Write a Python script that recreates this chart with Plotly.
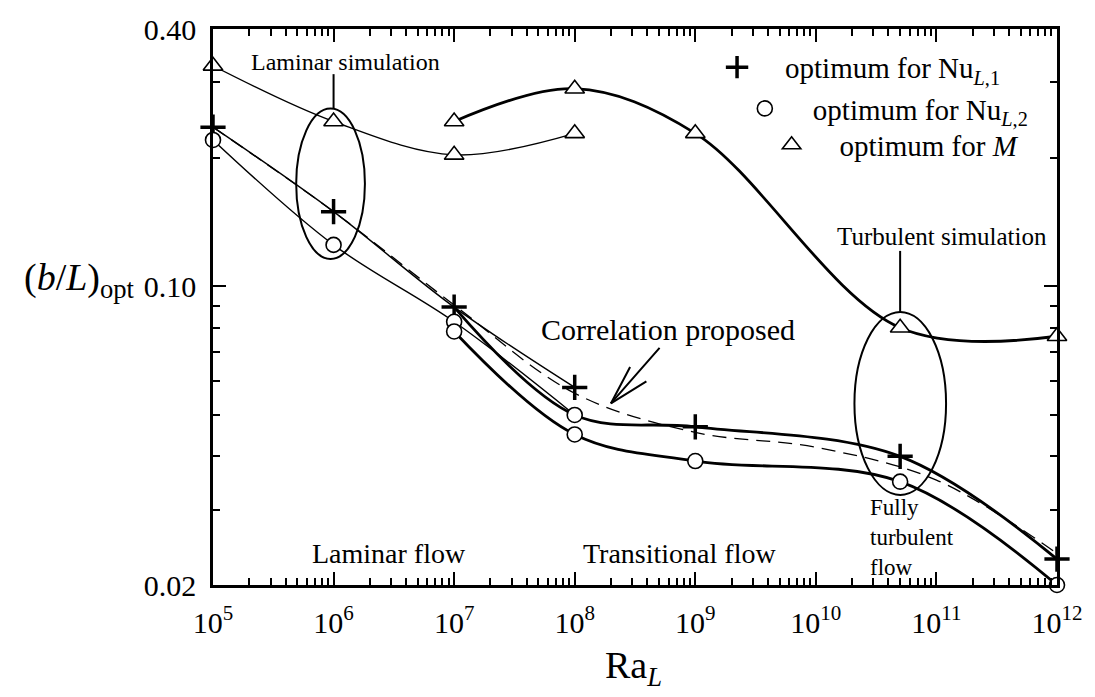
import numpy as np
import plotly.graph_objects as go

# Rayleigh numbers of the simulated cases
ra_lam = [1e5, 1e6, 1e7, 1e8]
ra_turb = [1e7, 1e8, 1e9, 5e10, 1e12]

# laminar simulation: optimum spacing (b/L)_opt
lam_nu1 = [0.2357, 0.1495, 0.0894, 0.058]
lam_nu2 = [0.220, 0.125, 0.0826, 0.050]
lam_m = [0.328, 0.243, 0.203, 0.228]

# turbulent simulation: optimum spacing (b/L)_opt
turb_nu1 = [0.0894, 0.050, 0.0469, 0.040, 0.023]
turb_nu2 = [0.0784, 0.045, 0.039, 0.0349, 0.020]
turb_m = [0.243, 0.290, 0.228, 0.080, 0.0764]

# proposed correlation
ra_corr = [1e5, 1e6, 1e7, 1e8, 1e9, 1e10, 1e11, 1e12]
corr = [0.2357, 0.1495, 0.0904, 0.0562, 0.0455, 0.042, 0.0352, 0.0237]

# axis ticks
x_major = [1e5, 1e6, 1e7, 1e8, 1e9, 1e10, 1e11, 1e12]
x_labels = ["10<sup>%d</sup>" % e for e in range(5, 13)]
y_major = [0.02, 0.10, 0.40]
y_labels = ["0.02", "0.10", "0.40"]
y_minor = [0.03, 0.04, 0.05, 0.06, 0.07, 0.08, 0.09, 0.2, 0.3]
x_minor = [m * 10.0 ** e for e in range(5, 12) for m in range(2, 10)]

FONT = "Liberation Serif"
BLACK = "black"

fig = go.Figure()

# curves
def curve(x, y, width, dash="solid"):
    fig.add_trace(go.Scatter(
        x=x, y=y, mode="lines", showlegend=False, hoverinfo="skip",
        line=dict(color=BLACK, width=width, shape="spline", smoothing=1.0, dash=dash),
    ))

curve(ra_corr, corr, 1.3, dash="14px,8px")
curve(ra_lam, lam_nu1, 1.4)
curve(ra_lam, lam_nu2, 1.4)
curve(ra_lam, lam_m, 1.4)
curve(ra_turb, turb_nu1, 2.8)
curve(ra_turb, turb_nu2, 2.8)
curve(ra_turb, turb_m, 2.8)

# markers
plus_x = ra_lam + ra_turb[2:]
plus_y = lam_nu1 + turb_nu1[2:]
circ_x = ra_lam + ra_turb
circ_y = lam_nu2 + turb_nu2
tri_x = ra_lam + ra_turb
tri_y = lam_m + turb_m

fig.add_trace(go.Scatter(
    x=plus_x, y=plus_y, mode="markers", legend="legend", cliponaxis=False,
    name="optimum for Nu<sub><i>L</i>,1</sub>",
    marker=dict(symbol="cross-thin", size=18, color=BLACK, line=dict(width=3.5, color=BLACK)),
))
fig.add_trace(go.Scatter(
    x=circ_x, y=circ_y, mode="markers", legend="legend2", cliponaxis=False,
    name="optimum for Nu<sub><i>L</i>,2</sub>",
    marker=dict(symbol="circle", size=15, color="white", line=dict(width=1.6, color=BLACK)),
))
fig.add_trace(go.Scatter(
    x=tri_x, y=tri_y, mode="markers", legend="legend3", cliponaxis=False,
    name="optimum for <i>M</i>",
    marker=dict(symbol="triangle-up", size=17, color="white", line=dict(width=1.6, color=BLACK)),
))

# simulation groupings
shapes = [
    dict(type="circle", xref="x", yref="y", x0=10 ** 5.69, x1=10 ** 6.26,
         y0=0.1159, y1=0.2605, line=dict(color=BLACK, width=2)),
    dict(type="circle", xref="x", yref="y", x0=10 ** 10.32, x1=10 ** 11.08,
         y0=0.0325, y1=0.0871, line=dict(color=BLACK, width=2)),
    dict(type="line", xref="x", yref="y", x0=1e6, x1=1e6, y0=0.2605, y1=0.3136,
         line=dict(color=BLACK, width=2)),
    dict(type="line", xref="x", yref="y", x0=5e10, x1=5e10, y0=0.0871, y1=0.121,
         line=dict(color=BLACK, width=2)),
]

def label(text, x, y, size, xanchor="center", align="center"):
    return dict(text=text, x=x, y=y, xref="paper", yref="paper", showarrow=False,
                xanchor=xanchor, yanchor="middle", align=align,
                font=dict(family=FONT, size=size, color=BLACK))

annotations = [
    label("Laminar simulation", 0.1575, 0.940, 24),
    label("Turbulent simulation", 0.8637, 0.627, 25),
    label("Correlation proposed", 0.5394, 0.4594, 30),
    label("Laminar flow", 0.2086, 0.0565, 28),
    label("Transitional flow", 0.5523, 0.0565, 28),
    label("Fully<br>turbulent<br>flow", 0.7756, 0.0850, 23, xanchor="left", align="left"),
    label("(<i>b</i>/<i>L</i>)<sub>opt</sub>", -0.0905, 0.548, 38, xanchor="right"),
    label("Ra<sub><i>L</i></sub>", 0.498, -0.150, 38),
]

# arrow pointing at the correlation curve
tip_x, tip_y = 8.3, np.log10(0.0532)
for ax, ay in [(50, -57), (20, -38), (37, -23)]:
    annotations.append(dict(
        x=tip_x, y=tip_y, xref="x", yref="y", text="", showarrow=True,
        arrowhead=0, arrowwidth=2, arrowcolor=BLACK, ax=ax, ay=ay, standoff=0,
    ))

L_W, T_H = 851.0, 566.0

def legend_at(px_text, py):
    return dict(
        x=(px_text - 213 - 94) / L_W, y=(585 - py) / T_H,
        xanchor="left", yanchor="middle", bgcolor="rgba(0,0,0,0)",
        borderwidth=0, itemwidth=86,
        font=dict(family=FONT, size=29, color=BLACK),
    )

axis_common = dict(
    type="log", showgrid=False, zeroline=False,
    showline=True, linecolor=BLACK, linewidth=2.5, mirror="allticks",
    ticks="inside", ticklen=13, tickwidth=2, tickcolor=BLACK,
    tickfont=dict(family=FONT, size=30, color=BLACK),
)

fig.update_layout(
    width=1095, height=697,
    margin=dict(l=213, r=31, t=19, b=112),
    paper_bgcolor="white", plot_bgcolor="white",
    showlegend=True,
    legend=legend_at(787, 58),
    legend2=legend_at(815, 100),
    legend3=legend_at(842, 137),
    xaxis=dict(
        axis_common, range=[5, 12], tickmode="array", tickvals=x_major, ticktext=x_labels,
        ticklabelstandoff=9,
        minor=dict(tickmode="array", tickvals=x_minor, ticks="inside", ticklen=7,
                   tickwidth=1.5, tickcolor=BLACK, showgrid=False),
    ),
    yaxis=dict(
        axis_common, range=[np.log10(0.02), np.log10(0.40)], tickmode="array",
        tickvals=y_major, ticktext=y_labels, ticklabelstandoff=8,
        minor=dict(tickmode="array", tickvals=y_minor, ticks="inside", ticklen=7,
                   tickwidth=1.5, tickcolor=BLACK, showgrid=False),
    ),
    shapes=shapes,
    annotations=annotations,
)

fig.write_html("out.html")
